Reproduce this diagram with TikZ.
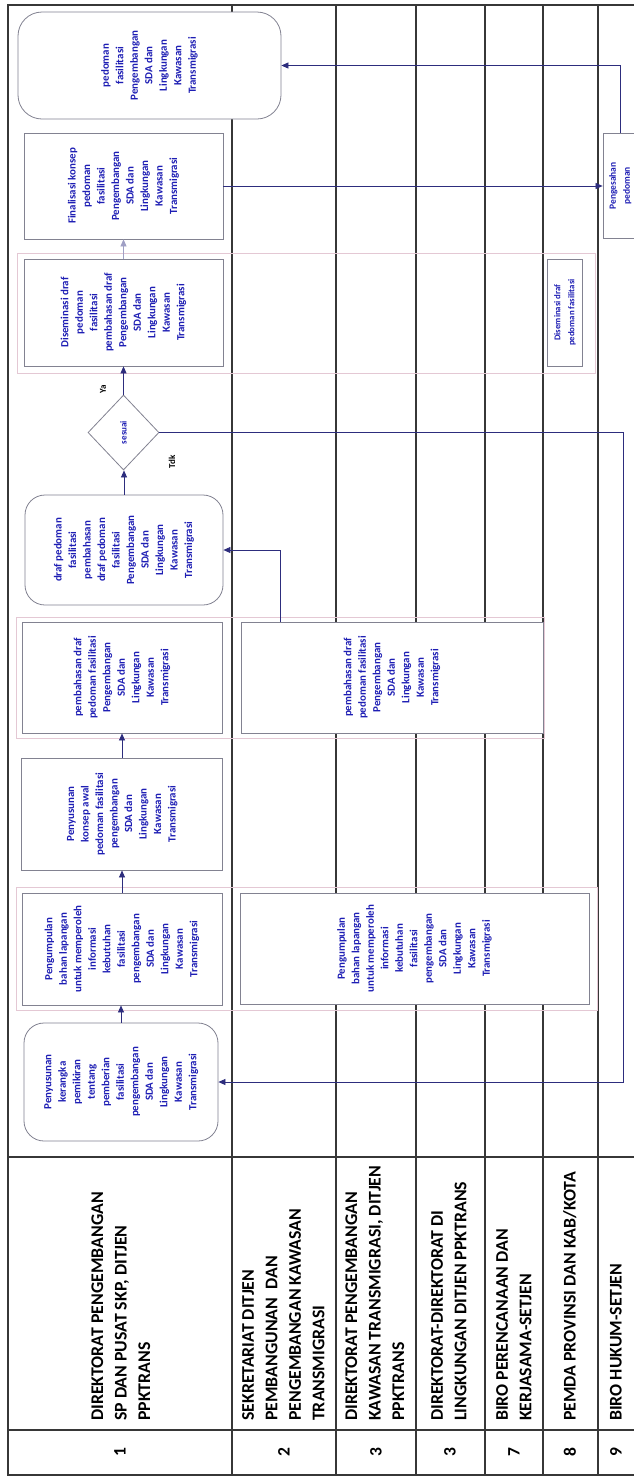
\documentclass[tikz,border=0pt]{standalone}
\usepackage{fontspec}
\setmainfont{Carlito}
\usepackage{graphicx}
\usetikzlibrary{shapes.geometric,arrows.meta,calc}
\definecolor{txtblue}{RGB}{30,30,180}
\definecolor{boxgray}{RGB}{130,130,145}
\definecolor{conn}{RGB}{45,45,125}
\definecolor{poolc}{RGB}{228,200,212}
\definecolor{lanec}{RGB}{55,55,55}
\newcommand{\rtc}[1]{\rotatebox{90}{\begin{tabular}{@{}c@{}}#1\end{tabular}}}
\newcommand{\rtl}[1]{\rotatebox{90}{\begin{tabular}{@{}l@{}}#1\end{tabular}}}
\begin{document}
\begin{tikzpicture}[x=1pt,y=-1pt,
 procbox/.style={draw=boxgray, fill=white, line width=0.8pt, inner sep=0pt, text=txtblue, font=\fontsize{10.9}{14.5}\selectfont\bfseries},
 roundbox/.style={procbox, rounded corners=20pt},
 decis/.style={procbox, diamond},
 flow/.style={draw=conn, line width=0.7pt, -{Triangle[length=7pt,width=6pt]}},
 lane/.style={draw=lanec, line width=1.4pt},
 poolframe/.style={draw=poolc, line width=0.8pt},
 hdr/.style={inner sep=0pt, font=\fontsize{17.8}{23.5}\selectfont\bfseries, anchor=south},
 num/.style={inner sep=0pt, font=\fontsize{17.5}{22}\selectfont\bfseries},
 lbl/.style={inner sep=0pt, text=black, font=\fontsize{9}{11}\selectfont\bfseries}
]
\useasboundingbox (0,0) rectangle (634,1476);
\clip (0,0) rectangle (634,1476);
\fill[white] (0,0) rectangle (634,1476);

% lanes and table
\foreach \lx in {232,336,416,485,543,598}{\draw[lane] (\lx,5) -- (\lx,1475);}
\draw[lane] (634,5) -- (8,5) -- (8,1475) -- (634,1475);
\draw[lane] (8,1157) -- (634,1157);
\draw[lane] (8,1430) -- (634,1430);

% header
\node[hdr] (h1) at (122,1421) {\rtl{DIREKTORAT PENGEMBANGAN\\SP DAN PUSAT SKP, DITJEN\\PPKTRANS}};
\node[hdr] (h2) at (284.5,1421) {\rtl{SEKRETARIAT DITJEN\\PEMBANGUNAN\ \ DAN\\PENGEMBANGAN KAWASAN\\TRANSMIGRASI}};
\node[hdr] (h3) at (376,1421) {\rtl{DIREKTORAT PENGEMBANGAN\\KAWASAN TRANSMIGRASI, DITJEN\\PPKTRANS}};
\node[hdr] (h4) at (450,1421) {\rtl{DIREKTORAT-DIREKTORAT DI\\LINGKUNGAN DITJEN PPKTRANS}};
\node[hdr] (h5) at (515,1421) {\rtl{BIRO PERENCANAAN DAN\\KERJASAMA-SETJEN}};
\node[hdr] (h6) at (571,1421) {\rtl{PEMDA PROVINSI DAN KAB/KOTA}};
\node[hdr] (h7) at (617,1421) {\rtl{BIRO HUKUM-SETJEN}};

\node[num] (n1) at (120,1452) {\rotatebox{90}{1}};
\node[num] (n2) at (284,1452) {\rotatebox{90}{2}};
\node[num] (n3) at (376,1452) {\rotatebox{90}{3}};
\node[num] (n4) at (450,1452) {\rotatebox{90}{3}};
\node[num] (n5) at (514,1452) {\rotatebox{90}{7}};
\node[num] (n6) at (570,1452) {\rotatebox{90}{8}};
\node[num] (n7) at (616,1452) {\rotatebox{90}{9}};

% pool frames
\draw[poolframe] (16,887) rectangle (597,1010);
\draw[poolframe] (16,617) rectangle (544,738);
\draw[poolframe] (17,253) rectangle (595,373);

% process nodes
\node[roundbox, minimum width=194pt, minimum height=118pt] (start) at (121,1082)
 {\rtc{Penyusunan\\kerangka\\pemikiran\\tentang\\pemberian\\fasilitasi\\pengembangan\\SDA dan\\Lingkungan\\Kawasan\\Transmigrasi}};
\node[procbox, minimum width=200pt, minimum height=112pt] (kump) at (122,949)
 {\rtc{Pengumpulan\\bahan lapangan\\untuk memperoleh\\informasi\\kebutuhan\\fasilitasi\\pengembangan\\SDA dan\\Lingkungan\\Kawasan\\Transmigrasi}};
\node[procbox, minimum width=349pt, minimum height=111pt] (kump2) at (414.5,948.5)
 {\rtc{Pengumpulan\\bahan lapangan\\untuk memperoleh\\informasi\\kebutuhan\\fasilitasi\\pengembangan\\SDA dan\\Lingkungan\\Kawasan\\Transmigrasi}};
\node[procbox, minimum width=201pt, minimum height=112pt] (konsep) at (122,814)
 {\rtc{Penyusunan\\konsep awal\\pedoman fasilitasi\\pengembangan\\SDA dan\\Lingkungan\\Kawasan\\Transmigrasi}};
\node[procbox, minimum width=200pt, minimum height=111pt] (bahas) at (122,677.5)
 {\rtc{pembahasan draf\\pedoman fasilitasi\\Pengembangan\\SDA dan\\Lingkungan\\Kawasan\\Transmigrasi}};
\node[procbox, minimum width=302pt, minimum height=111pt] (bahas2) at (392,677.5)
 {\rtc{pembahasan draf\\pedoman fasilitasi\\Pengembangan\\SDA dan\\Lingkungan\\Kawasan\\Transmigrasi}};
\node[roundbox, minimum width=198pt, minimum height=110pt] (draf) at (124,550)
 {\rtc{draf pedoman\\fasilitasi\\pembahasan\\draf pedoman\\fasilitasi\\Pengembangan\\SDA dan\\Lingkungan\\Kawasan\\Transmigrasi}};
\node[decis, minimum width=71pt, minimum height=75pt, font=\fontsize{9}{11}\selectfont\bfseries] (sesuai) at (123.5,432.5)
 {\rotatebox{90}{sesuai}};
\node[procbox, minimum width=199pt, minimum height=107pt] (disem) at (123.5,312.5)
 {\rtc{Diseminasi draf\\pedoman\\fasilitasi\\pembahasan draf\\Pengembangan\\SDA dan\\Lingkungan\\Kawasan\\Transmigrasi}};
\node[procbox, minimum width=35pt, minimum height=107pt, font=\fontsize{8.8}{14}\selectfont\bfseries] (disem8) at (564.5,312.5)
 {\rtc{Diseminasi draf\\pedoman fasilitasi}};
\node[procbox, minimum width=199pt, minimum height=106pt] (final) at (123.5,186)
 {\rtc{Finalisasi konsep\\pedoman\\fasilitasi\\Pengembangan\\SDA dan\\Lingkungan\\Kawasan\\Transmigrasi}};
\node[procbox, minimum width=34pt, minimum height=105pt, font=\fontsize{9.5}{14}\selectfont\bfseries] (sah) at (620,186)
 {\rtc{Pengesahan\\pedoman}};
\node[roundbox, rounded corners=24pt, minimum width=263pt, minimum height=107pt] (end) at (149.5,65.5)
 {\rtc{pedoman\\fasilitasi\\Pengembangan\\SDA dan\\Lingkungan\\Kawasan\\Transmigrasi}};

% connectors
\draw[flow] (start.north) -- (start.north |- kump.south);
\draw[flow] (kump.north) -- (kump.north |- konsep.south);
\draw[flow] (konsep.north) -- (konsep.north |- bahas.south);
\draw[flow] ($(bahas2.north west)+(40,0)$) |- (draf.east);
\draw[flow] (draf.north) -- (draf.north |- sesuai.south);
\draw[flow] (sesuai.north) -- (sesuai.north |- disem.south);
\node[lbl] (ya) at (103,389) {\rotatebox{90}{Ya}};
\draw[flow, draw=conn!45] (disem.north) -- (disem.north |- final.south);
\draw[flow] (final.east) -- (sah.west);
\draw[flow] (sah.north) |- (end.east);
\coordinate (tk) at (623,432.5);
\draw[flow] (sesuai.east) -- (tk) |- (start.east);
\node[lbl] (tdk) at (172,462) {\rotatebox{90}{Tdk}};
\end{tikzpicture}
\end{document}
